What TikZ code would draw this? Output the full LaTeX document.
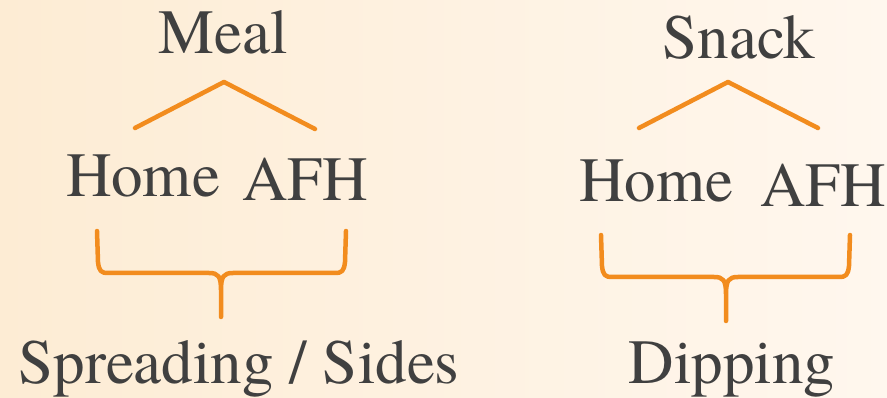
\documentclass[tikz,border=0pt]{standalone}
\usepackage{fontspec}
\newfontfamily\timesfont{texgyretermes-regular.otf}
\definecolor{inkgray}{RGB}{64,64,64}
\definecolor{braceorange}{RGB}{242,140,30}
\definecolor{bgwarm}{RGB}{253,236,212}
\definecolor{bgcream}{RGB}{255,247,238}
\tikzset{
  word/.style={inner sep=0pt, anchor=base, text=inkgray,
    font=\timesfont\fontsize{63}{70}\selectfont},
  link/.style={draw=braceorange, line width=4.5pt, line cap=round, line join=round},
}
\begin{document}
\begin{tikzpicture}[x=1pt, y=-1pt]
  % canvas
  \useasboundingbox (0,0) rectangle (887,398);
  \shade[left color=bgwarm, right color=bgcream] (0,0) rectangle (887,398);

  % left tree
  \node[word] (meal)   at (223,54)  {Meal};
  \node[word] (homeL)  at (143,197) {Home};
  \node[word] (afhL)   at (305,201) {AFH};
  \node[word] (spread) at (239,383) {Spreading / Sides};

  % right tree
  \node[word] (snack)  at (739,59)  {Snack};
  \node[word] (homeR)  at (656,202) {Home};
  \node[word] (afhR)   at (823,207) {AFH};
  \node[word] (dip)    at (732,383) {Dipping};

  % carets under the top words
  \coordinate (mealL) at (135,128);
  \coordinate (mealA) at (224,82);
  \coordinate (mealR) at (315,129);
  \draw[link] (mealL) -- (mealA) -- (mealR);

  \coordinate (snackL) at (639,128);
  \coordinate (snackA) at (728,82);
  \coordinate (snackR) at (818,128);
  \draw[link] (snackL) -- (snackA) -- (snackR);

  % braces joining Home and AFH
  \coordinate (bL1) at (97,231);
  \coordinate (bLt) at (221,317);
  \coordinate (bL2) at (346,231);
  \draw[link] (bL1) -- (98,262) .. controls (99,271) and (101,273) .. (108,273)
     -- (209,273) .. controls (218,273) and (221,276) .. (221,290) -- (bLt)
     (221,290) .. controls (221,276) and (224,273) .. (233,273)
     -- (335,273) .. controls (342,273) and (344,271) .. (345,262) -- (bL2);

  \coordinate (bR1) at (601,235);
  \coordinate (bRt) at (726,321);
  \coordinate (bR2) at (850,235);
  \draw[link] (bR1) -- (602,266) .. controls (603,275) and (605,277) .. (612,277)
     -- (714,277) .. controls (723,277) and (726,280) .. (726,294) -- (bRt)
     (726,294) .. controls (726,280) and (729,277) .. (738,277)
     -- (839,277) .. controls (846,277) and (848,275) .. (849,266) -- (bR2);
\end{tikzpicture}
\end{document}
